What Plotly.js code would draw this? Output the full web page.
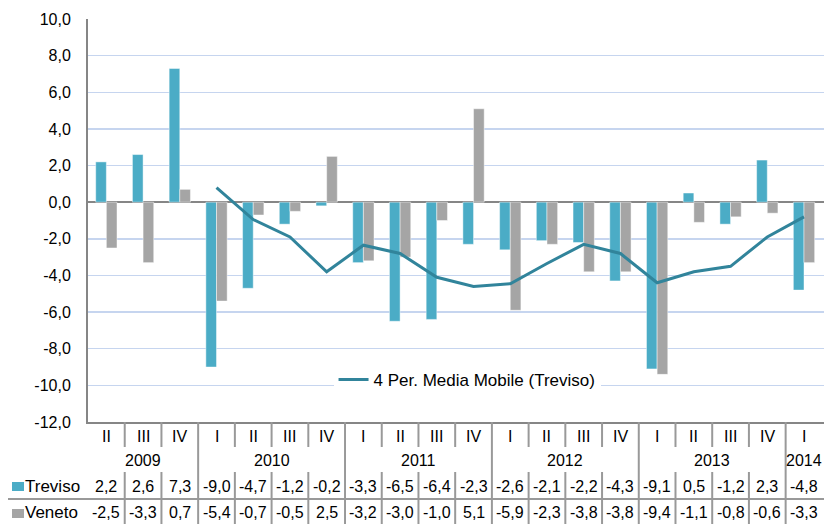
<!DOCTYPE html>
<html>
<head>
<meta charset="utf-8">
<script src="https://cdn.plot.ly/plotly-3.0.1.min.js"></script>
<style>html,body{margin:0;padding:0;background:#fff;}#chart{width:827px;height:524px;}</style>
</head>
<body>
<div id="chart"></div>
<script>
const quarters = ["II","III","IV","I","II","III","IV","I","II","III","IV","I","II","III","IV","I","II","III","IV","I"];
const years = ["2009","2009","2009","2010","2010","2010","2010","2011","2011","2011","2011","2012","2012","2012","2012","2013","2013","2013","2013","2014"];
const treviso = [2.2,2.6,7.3,-9.0,-4.7,-1.2,-0.2,-3.3,-6.5,-6.4,-2.3,-2.6,-2.1,-2.2,-4.3,-9.1,0.5,-1.2,2.3,-4.8];
const veneto = [-2.5,-3.3,0.7,-5.4,-0.7,-0.5,2.5,-3.2,-3.0,-1.0,5.1,-5.9,-2.3,-3.8,-3.8,-9.4,-1.1,-0.8,-0.6,-3.3];
const movingAvg = [null,null,null,0.8,-0.95,-1.9,-3.8,-2.35,-2.8,-4.1,-4.6,-4.45,-3.35,-2.3,-2.8,-4.4,-3.8,-3.5,-1.9,-0.8];
const yTicks = [10,8,6,4,2,0,-2,-4,-6,-8,-10,-12];

const cats = years.map((y,i)=>y+" "+quarters[i]);
const fmt = v => v.toFixed(1).replace('.',',');

const cTre = '#4bacc6', cVen = '#a5a5a5', cLine = '#31849b', cGrid = '#999999';
const FONT = 'Liberation Sans, Arial, sans-serif';

const traces = [
  {type:'bar', name:'Treviso', x:cats, y:treviso, marker:{color:cTre, line:{color:'rgba(255,255,255,0.45)', width:1}}, showlegend:false, hoverinfo:'y'},
  {type:'bar', name:'Veneto', x:cats, y:veneto, marker:{color:cVen, line:{color:'rgba(255,255,255,0.45)', width:1}}, showlegend:false, hoverinfo:'y'},
  {type:'scatter', mode:'lines', name:'4 Per. Media Mobile (Treviso)', x:cats, y:movingAvg, line:{color:cLine, width:3}, connectgaps:false}
];

const plotTop=19, plotBot=422, plotH=plotBot-plotTop;
const py = p => (plotBot-p)/plotH;
const px = p => (p-88)/736;

const shapes = [];
const annotations = [];
const n = cats.length;
for (let i=1;i<n;i++){
  shapes.push({type:'line', xref:'x', yref:'paper', x0:i-0.5, x1:i-0.5, y0:py(422), y1:py(447), line:{color:cGrid, width:2}});
  shapes.push({type:'line', xref:'x', yref:'paper', x0:i-0.5, x1:i-0.5, y0:py(472), y1:py(524), line:{color:cGrid, width:2}});
}
for (let i=1;i<n;i++){
  if (years[i]!==years[i-1]) shapes.push({type:'line', xref:'x', yref:'paper', x0:i-0.5, x1:i-0.5, y0:py(447), y1:py(472), line:{color:cGrid, width:2}});
}
shapes.push({type:'line', xref:'paper', yref:'paper', x0:px(8), x1:1, y0:py(499), y1:py(499), line:{color:cGrid, width:2}});
shapes.push({type:'rect', xref:'paper', yref:'paper', x0:px(12), x1:px(24), y0:py(491), y1:py(482), fillcolor:cTre, line:{width:0}});
shapes.push({type:'rect', xref:'paper', yref:'paper', x0:px(12), x1:px(24), y0:py(518), y1:py(509), fillcolor:cVen, line:{width:0}});

const tf = {family:FONT, size:16, color:'#000'};
for (let i=0;i<n;i++){
  annotations.push({xref:'x', yref:'paper', x:cats[i], y:py(436), text:quarters[i], showarrow:false, font:tf, yanchor:'middle'});
  annotations.push({xref:'x', yref:'paper', x:cats[i], y:py(486), text:fmt(treviso[i]), showarrow:false, font:tf, yanchor:'middle'});
  annotations.push({xref:'x', yref:'paper', x:cats[i], y:py(512), text:fmt(veneto[i]), showarrow:false, font:tf, yanchor:'middle'});
}
let s=0;
for (let i=1;i<=n;i++){
  if (i===n || years[i]!==years[s]){
    annotations.push({xref:'x', yref:'paper', x:(s+i-1)/2, y:py(460), text:years[s], showarrow:false, font:tf, yanchor:'middle'});
    s=i;
  }
}
annotations.push({xref:'paper', yref:'paper', x:px(23), y:py(486), text:'Treviso', showarrow:false, font:{family:FONT, size:17, color:'#000'}, xanchor:'left', yanchor:'middle'});
annotations.push({xref:'paper', yref:'paper', x:px(23), y:py(512), text:'Veneto', showarrow:false, font:{family:FONT, size:17, color:'#000'}, xanchor:'left', yanchor:'middle'});

const layout = {
  width:827, height:524,
  margin:{l:88, r:3, t:19, b:102},
  paper_bgcolor:'#fff', plot_bgcolor:'#fff',
  font:{family:FONT, size:16, color:'#000'},
  barmode:'group', bargap:0.42, bargroupgap:0,
  xaxis:{type:'category', showticklabels:false, ticks:'', showgrid:false, zeroline:false,
         showline:true, linecolor:'#868686', linewidth:2, mirror:false, fixedrange:true},
  yaxis:{range:[-12,10], tickvals:yTicks, ticktext:yTicks.map(fmt), showgrid:true, gridcolor:'#c6d5ef', gridwidth:1.5,
         zeroline:true, zerolinecolor:'#868686', zerolinewidth:2, showline:true, linecolor:'#868686', linewidth:2,
         ticks:'', ticklen:0, tickfont:{family:FONT, size:16, color:'#000'}, fixedrange:true, ticklabelstandoff:12},
  showlegend:true,
  legend:{x:0.515, y:py(380), xanchor:'center', yanchor:'middle', bgcolor:'#fff', borderwidth:0, font:{family:FONT, size:17, color:'#000'}},
  shapes:shapes, annotations:annotations
};
Plotly.newPlot('chart', traces, layout, {displayModeBar:false, staticPlot:true});
</script>
</body>
</html>
